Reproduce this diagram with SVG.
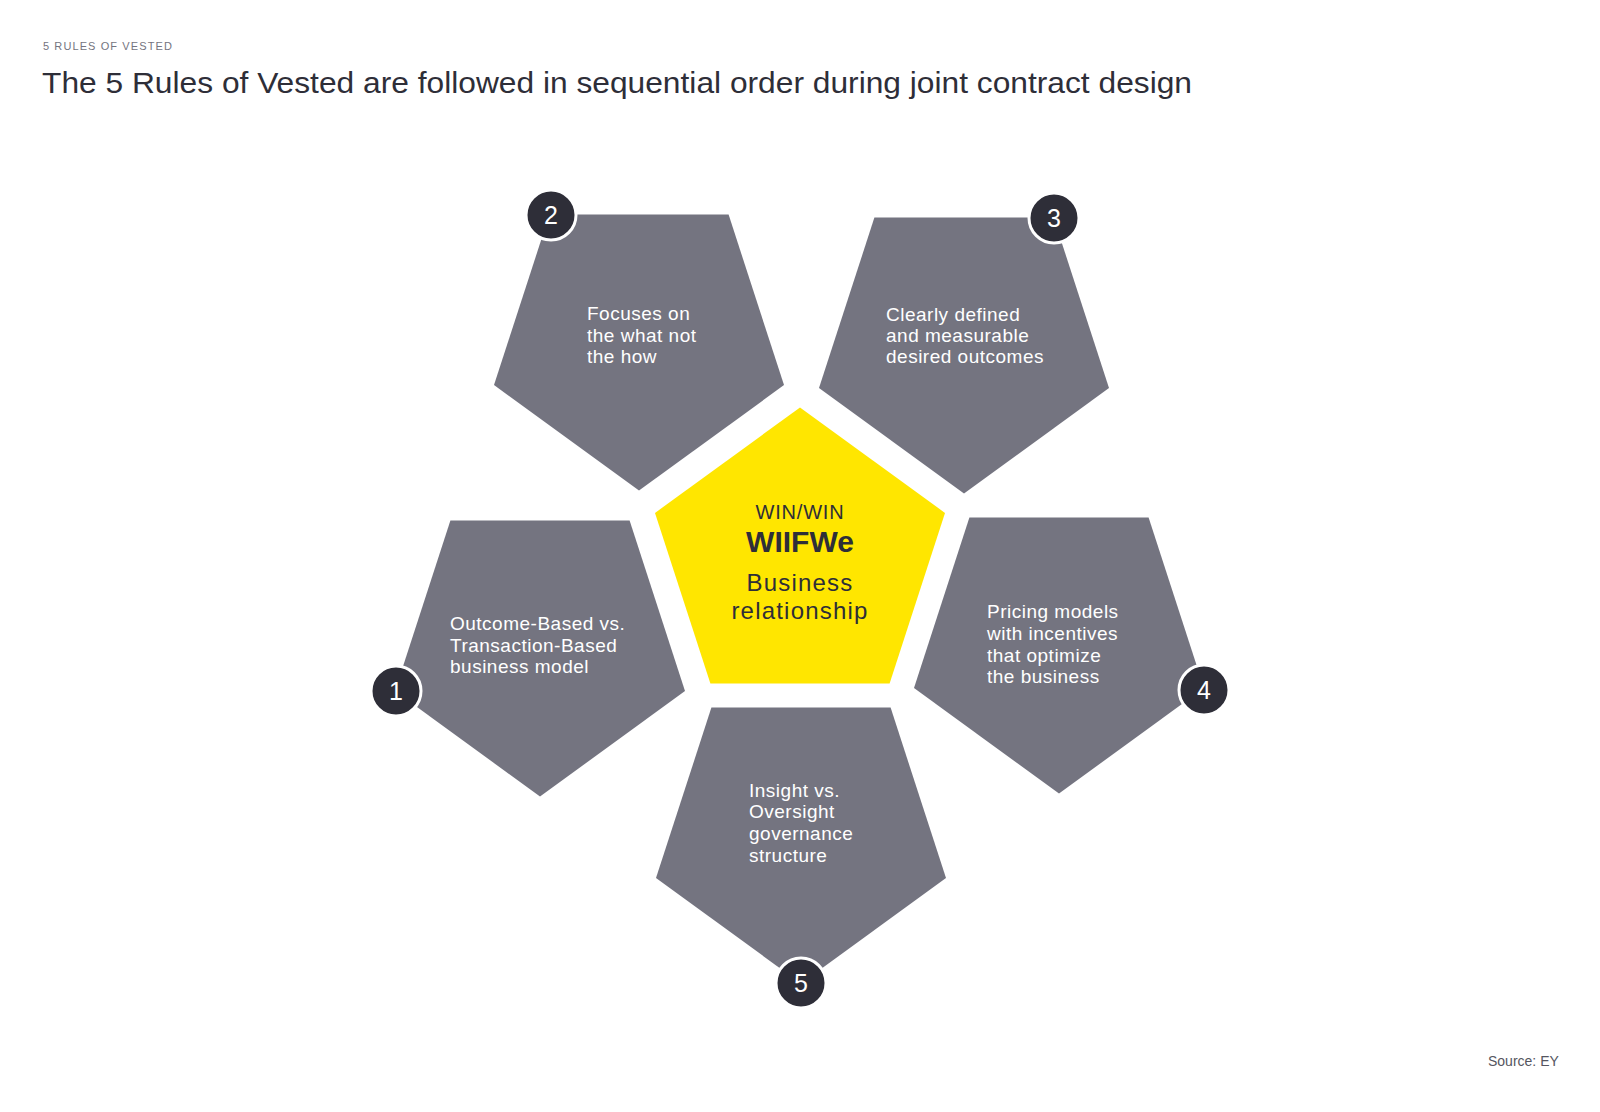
<svg xmlns="http://www.w3.org/2000/svg" width="1600" height="1112" viewBox="0 0 1600 1112">
<style>
  .bg { fill: #ffffff; }
  .pent { fill: #747480; }
  .core { fill: #FFE600; }
  .lbl { font-family: "Liberation Sans", Arial, sans-serif; font-size: 19px; fill: #ffffff; letter-spacing: 0.5px; }
  .badge { fill: #2E2E38; stroke: #ffffff; stroke-width: 3; }
  .num { font-family: "Liberation Sans", Arial, sans-serif; font-size: 25px; fill: #ffffff; text-anchor: middle; }
  .ctr { font-family: "Liberation Sans", Arial, sans-serif; fill: #2E2E38; text-anchor: middle; }
  .title { font-family: "Liberation Sans", Arial, sans-serif; font-size: 29px; fill: #2E2E38; }
  .kicker { font-family: "Liberation Sans", Arial, sans-serif; font-size: 11px; fill: #747480; letter-spacing: 1.1px; }
  .src { font-family: "Liberation Sans", Arial, sans-serif; font-size: 14px; fill: #555560; }
</style>
<rect class="bg" x="0" y="0" width="1600" height="1112"/>

<g id="header">
  <text class="kicker" x="43" y="50">5 RULES OF VESTED</text>
  <text class="title" x="42" y="93" textLength="1150" lengthAdjust="spacingAndGlyphs">The 5 Rules of Vested are followed in sequential order during joint contract design</text>
</g>

<g id="connectors"></g>

<g id="center">
  <polygon class="core" points="800,407.5 945,512.9 889.6,683.4 710.4,683.4 655,512.9"/>
  <text class="ctr" x="800" y="519" font-size="20" letter-spacing="0.8">WIN/WIN</text>
  <text class="ctr" x="800" y="552" font-size="30" font-weight="bold">WIIFWe</text>
  <text class="ctr" x="800" y="591" font-size="24" letter-spacing="1.2">Business</text>
  <text class="ctr" x="800" y="619" font-size="24" letter-spacing="1.2">relationship</text>
</g>

<g id="rule1">
  <polygon class="pent" points="450.4,520.6 629.6,520.6 685,691.1 540,796.5 395,691.1"/>
  <text class="lbl" x="450" y="630">Outcome-Based vs.</text>
  <text class="lbl" x="450" y="652">Transaction-Based</text>
  <text class="lbl" x="450" y="673">business model</text>
  <circle class="badge" cx="396" cy="691" r="25"/>
  <text class="num" x="396" y="700">1</text>
</g>

<g id="rule2">
  <polygon class="pent" points="549.4,214.6 728.6,214.6 784,385.1 639,490.5 494,385.1"/>
  <text class="lbl" x="587" y="320">Focuses on</text>
  <text class="lbl" x="587" y="342">the what not</text>
  <text class="lbl" x="587" y="363">the how</text>
  <circle class="badge" cx="551" cy="215" r="25"/>
  <text class="num" x="551" y="224">2</text>
</g>

<g id="rule3">
  <polygon class="pent" points="874.4,217.6 1053.6,217.6 1109,388.1 964,493.5 819,388.1"/>
  <text class="lbl" x="886" y="321">Clearly defined</text>
  <text class="lbl" x="886" y="342">and measurable</text>
  <text class="lbl" x="886" y="363">desired outcomes</text>
  <circle class="badge" cx="1054" cy="218" r="25"/>
  <text class="num" x="1054" y="227">3</text>
</g>

<g id="rule4">
  <polygon class="pent" points="969.4,517.6 1148.6,517.6 1204,688.1 1059,793.5 914,688.1"/>
  <text class="lbl" x="987" y="618">Pricing models</text>
  <text class="lbl" x="987" y="640">with incentives</text>
  <text class="lbl" x="987" y="662">that optimize</text>
  <text class="lbl" x="987" y="683">the business</text>
  <circle class="badge" cx="1204" cy="690" r="25"/>
  <text class="num" x="1204" y="699">4</text>
</g>

<g id="rule5">
  <polygon class="pent" points="711.4,707.6 890.6,707.6 946,878.1 801,983.5 656,878.1"/>
  <text class="lbl" x="749" y="797">Insight vs.</text>
  <text class="lbl" x="749" y="818">Oversight</text>
  <text class="lbl" x="749" y="840">governance</text>
  <text class="lbl" x="749" y="862">structure</text>
  <circle class="badge" cx="801" cy="983" r="25"/>
  <text class="num" x="801" y="992">5</text>
</g>

<g id="footer">
  <text class="src" x="1488" y="1066">Source: EY</text>
</g>
</svg>
